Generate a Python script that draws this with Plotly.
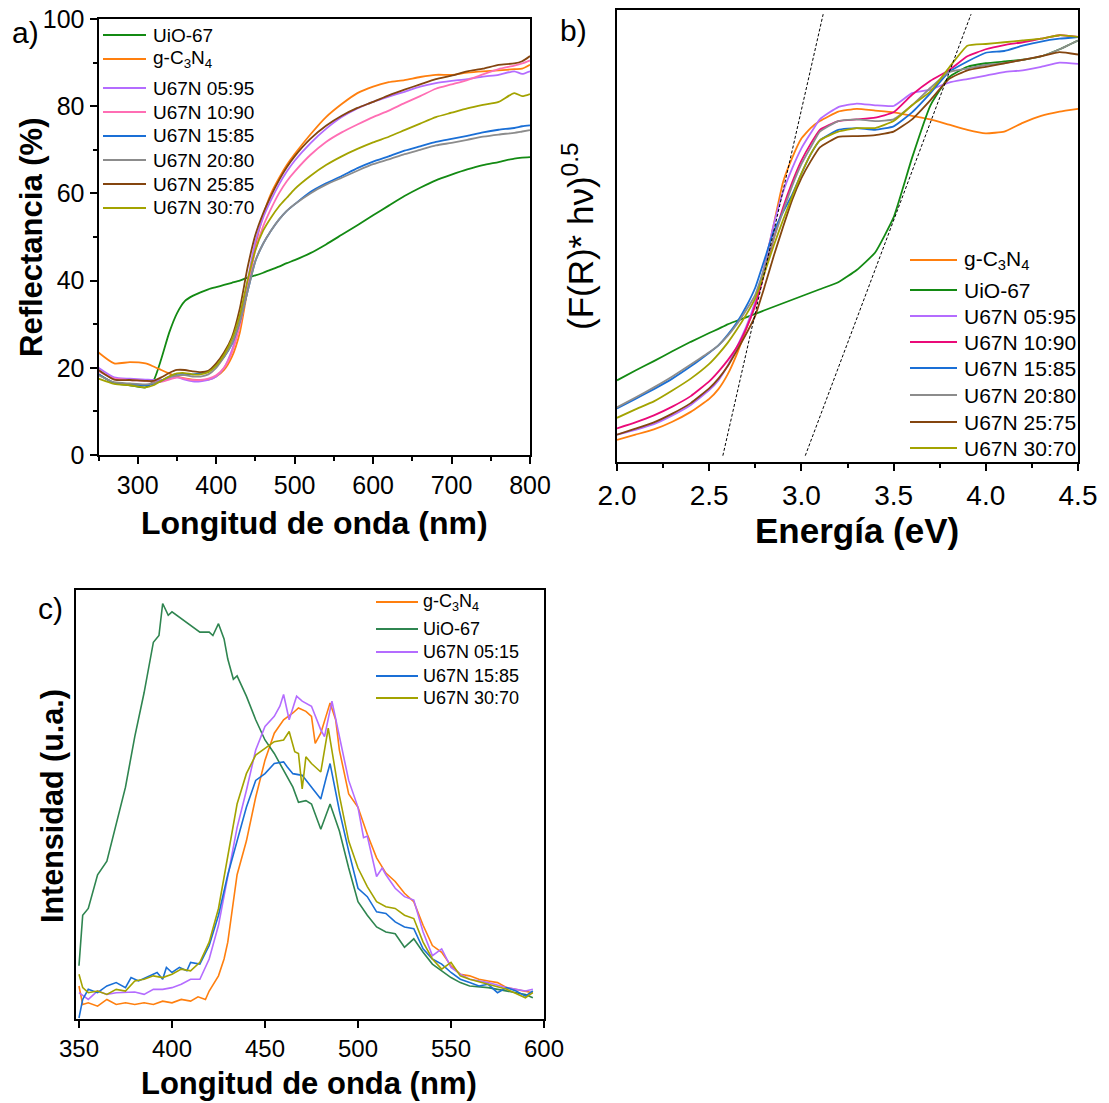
import plotly.graph_objects as go

W, H = 1109, 1103
FONT = "Liberation Sans, Arial, sans-serif"

# ---------------- Panel a: reflectance ----------------
A_WL = [250, 270, 290, 310, 320, 330, 340, 350, 360, 370, 380, 390, 400, 410, 420, 430, 440, 450, 460, 470,
        480, 490, 500, 520, 540, 560, 580, 600, 620, 640, 660, 680, 700, 720, 740, 760, 780, 790, 800]
A_UIO = [18.5, 16.5, 16, 15.5, 17, 22, 28, 32.5, 35.3, 36.5, 37.3, 38, 38.5, 39, 39.5, 40, 40.7, 41.2, 41.8, 42.5,
         43.2, 44, 44.7, 46.3, 48.3, 50.5, 52.7, 55, 57.2, 59.4, 61.3, 63, 64.3, 65.5, 66.5, 67.2, 68, 68.2, 68.3]
A_GCN = [23.5, 21, 21.3, 21, 20.3, 19.5, 18.7, 18, 17.6, 17.3, 17.2, 17.3, 18, 19.5, 22.5, 28, 38, 48, 55, 60,
         63.5, 66.5, 69, 73.5, 77.5, 80.5, 83, 84.5, 85.5, 86, 86.7, 87.2, 87.2, 87.7, 88, 88.2, 88.5, 88.6, 89.5]
A_0595 = [20, 17.8, 17.5, 17.3, 17.2, 17.2, 17.5, 17.8, 17.3, 16.9, 16.9, 17.2, 18, 20, 24, 31, 40, 49, 54.5, 58.5,
          62, 65, 67.5, 71.5, 74.8, 77.5, 79.5, 81, 82.2, 83.3, 84.5, 85.3, 85.8, 86.2, 86.8, 87.2, 88, 87.4, 88]
A_1090 = [19.2, 17.5, 17.2, 17, 16.8, 16.8, 17.3, 17.8, 17.5, 17.2, 17.2, 17.5, 18.3, 20, 23.5, 29.5, 38.5, 47, 52.5, 56.5,
          60, 62.8, 65, 68.8, 71.8, 74, 75.8, 77.5, 79, 80.7, 82.3, 84, 85, 86, 87.3, 88.5, 89.3, 89.8, 90.5]
A_1585 = [18.5, 16.5, 16.2, 16, 16.3, 17, 18, 18.6, 18.6, 18.5, 18.7, 19.2, 20.5, 22.5, 25.5, 30.5, 37.5, 44.5, 48.5, 51.5,
          54, 56, 57.5, 60.3, 62.3, 64, 65.8, 67.3, 68.5, 69.8, 70.8, 71.8, 72.5, 73.2, 74, 74.6, 75, 75.4, 75.6]
A_2080 = [18.3, 16.7, 16.4, 16.2, 16.5, 17, 17.8, 18.2, 18.3, 18, 18, 18.5, 20, 22.5, 25.5, 30.5, 37.5, 44.5, 48.5, 51.5,
          54, 56, 57.5, 60, 62, 63.6, 65.2, 66.7, 67.8, 69, 70, 71, 71.6, 72.3, 73, 73.5, 73.9, 74.2, 74.5]
A_2585 = [19.5, 17.3, 17.2, 17, 17, 17.8, 18.8, 19.5, 19.5, 19.2, 19, 19.3, 21, 23.5, 27, 33.5, 43, 50.5, 55.5, 59.5,
          63, 66, 68.5, 72.5, 75.5, 77.8, 79.6, 81, 82.5, 83.8, 85, 86.2, 87, 88, 88.6, 89.5, 89.8, 90.3, 91.5]
A_3070 = [17.5, 16.3, 16, 15.5, 16, 17, 18, 18.7, 18.8, 18.5, 18.5, 19, 20.5, 23, 26.5, 32, 40, 47, 51.5, 54.5,
          57, 59, 61, 64, 66.5, 68.5, 70.2, 71.7, 73, 74.5, 76, 77.5, 78.5, 79.5, 80.3, 81, 83, 82.3, 82.8]

# ---------------- Panel b: Tauc plot ----------------
B_E = [2.0, 2.1, 2.2, 2.3, 2.4, 2.5, 2.55, 2.6, 2.65, 2.7, 2.75, 2.8, 2.85, 2.9, 2.95, 3.0, 3.05, 3.1,
       3.2, 3.3, 3.4, 3.5, 3.6, 3.7, 3.8, 3.9, 4.0, 4.1, 4.2, 4.3, 4.4, 4.5]
B_GCN = [63, 78, 93, 115, 143, 180, 208, 250, 308, 378, 448, 558, 678, 798, 868, 923, 953, 973,
         1000, 1008, 1003, 998, 988, 978, 963, 948, 938, 943, 968, 988, 1000, 1008]
B_UIO = [233, 261, 288, 316, 343, 368, 380, 393, 403, 413, 423, 433, 443, 453, 463, 473, 483, 493,
         513, 548, 598, 698, 868, 1018, 1098, 1128, 1138, 1143, 1148, 1158, 1178, 1203]
B_0595 = [78, 92, 108, 133, 163, 205, 233, 275, 328, 385, 458, 560, 678, 770, 838, 895, 938, 978,
          1013, 1023, 1018, 1016, 1053, 1063, 1083, 1093, 1103, 1113, 1118, 1128, 1140, 1136]
B_1090 = [96, 113, 133, 158, 188, 230, 258, 290, 328, 380, 448, 540, 638, 725, 798, 860, 908, 948,
          973, 978, 983, 998, 1048, 1088, 1118, 1158, 1178, 1190, 1198, 1208, 1218, 1213]
B_1585 = [153, 180, 208, 238, 273, 312, 333, 363, 398, 443, 498, 578, 658, 713, 763, 823, 878, 918,
          948, 953, 948, 958, 998, 1053, 1113, 1143, 1168, 1173, 1188, 1200, 1208, 1213]
B_2080 = [156, 184, 213, 244, 278, 313, 333, 360, 393, 433, 478, 555, 638, 715, 788, 850, 898, 943,
          973, 978, 973, 978, 1018, 1068, 1113, 1123, 1133, 1138, 1148, 1158, 1178, 1203]
B_2575 = [78, 95, 113, 138, 168, 210, 238, 273, 318, 365, 418, 500, 588, 670, 748, 810, 858, 898,
          928, 930, 933, 943, 978, 1033, 1093, 1118, 1128, 1138, 1148, 1158, 1170, 1163]
B_3070 = [126, 150, 173, 204, 238, 280, 308, 340, 378, 420, 468, 540, 618, 690, 758, 823, 878, 918,
          943, 953, 953, 973, 1018, 1058, 1125, 1188, 1193, 1198, 1203, 1208, 1218, 1213]
# tangent (band-gap) lines
TAN1_E = [2.574, 3.118]
TAN1_Y = [18, 1278]
TAN2_E = [3.021, 3.920]
TAN2_Y = [18, 1278]

# ---------------- Panel c: photoluminescence ----------------
C_GCN_X = [350, 352, 355, 360, 365, 370, 375, 380, 385, 390, 395, 400, 405, 410, 414, 418, 420, 425, 428, 430,
           435, 440, 445, 450, 455, 460, 465, 468, 472, 475, 477, 480, 485, 488, 490, 495, 500, 505, 510, 515,
           520, 525, 530, 535, 540, 545, 550, 555, 560, 565, 570, 575, 580, 585, 590, 594]
C_GCN_Y = [98, 43, 48, 38, 58, 43, 48, 43, 48, 43, 53, 48, 58, 53, 66, 58, 83, 128, 178, 228,
           428, 528, 658, 768, 848, 888, 908, 923, 913, 898, 818, 848, 938, 888, 798, 668, 628, 548, 478, 433,
           408, 373, 348, 278, 218, 198, 158, 133, 128, 118, 113, 108, 93, 88, 83, 78]
C_UIO_X = [350, 352, 355, 360, 365, 370, 375, 380, 385, 390, 393, 395, 398, 400, 405, 410, 415, 420, 422, 425,
           428, 430, 433, 435, 440, 445, 450, 455, 460, 465, 468, 472, 475, 480, 485, 490, 495, 500, 505, 510,
           515, 520, 525, 530, 535, 540, 545, 550, 555, 560, 570, 580, 590, 594]
C_UIO_Y = [158, 308, 328, 428, 468, 578, 688, 838, 968, 1118, 1138, 1233, 1198, 1208, 1188, 1168, 1148, 1148, 1138, 1173,
           1128, 1068, 1008, 1018, 958, 888, 828, 788, 738, 688, 643, 648, 638, 563, 638, 558, 448, 348, 308, 273,
           258, 253, 213, 238, 198, 163, 143, 123, 108, 98, 93, 83, 73, 63]
C_0515_X = [350, 355, 360, 365, 370, 380, 385, 390, 395, 400, 405, 410, 415, 420, 425, 430, 435, 440, 445, 450,
            455, 458, 460, 463, 467, 470, 475, 480, 482, 486, 490, 495, 500, 503, 505, 510, 513, 515, 520, 525,
            530, 535, 540, 545, 550, 555, 560, 570, 580, 590, 594]
C_0515_Y = [78, 58, 83, 73, 78, 80, 73, 88, 88, 93, 103, 118, 118, 178, 278, 428, 568, 678, 798, 868,
            898, 928, 963, 888, 958, 943, 928, 858, 838, 943, 838, 708, 628, 538, 543, 423, 448, 428, 388, 363,
            353, 258, 188, 208, 153, 133, 118, 108, 93, 83, 88]
C_1585_X = [350, 352, 355, 360, 365, 370, 375, 378, 382, 388, 392, 395, 397, 400, 404, 408, 410, 415, 420, 425,
            430, 435, 440, 445, 450, 455, 460, 462, 465, 470, 475, 480, 483, 485, 490, 495, 500, 505, 510, 515,
            520, 525, 530, 535, 540, 545, 550, 555, 560, 565, 570, 575, 580, 585, 590, 594]
C_1585_Y = [3, 58, 88, 78, 98, 108, 93, 123, 113, 128, 138, 118, 153, 138, 153, 143, 168, 163, 218, 308,
            428, 528, 628, 708, 728, 758, 763, 748, 728, 723, 688, 653, 718, 758, 618, 498, 388, 363, 318, 313,
            288, 273, 268, 208, 178, 163, 138, 118, 108, 98, 103, 78, 93, 83, 68, 83]
C_3070_X = [350, 352, 355, 360, 365, 370, 375, 380, 385, 390, 395, 400, 405, 410, 415, 420, 425, 430, 435, 440,
            445, 450, 455, 460, 463, 466, 468, 470, 472, 475, 480, 484, 487, 490, 495, 500, 505, 510, 515, 520,
            525, 530, 535, 540, 545, 550, 555, 560, 570, 580, 590, 594]
C_3070_Y = [133, 93, 78, 83, 73, 88, 83, 113, 118, 128, 123, 133, 148, 143, 168, 228, 328, 488, 638, 728,
            783, 803, 823, 828, 853, 793, 788, 683, 778, 758, 733, 863, 768, 663, 528, 448, 393, 348, 333, 328,
            308, 298, 228, 178, 148, 168, 128, 118, 103, 88, 63, 78]

GCN_LABEL = "g-C<sub>3</sub>N<sub>4</sub>"

COL = dict(green="#138a13", orange="#ff7f0e", violet="#b46cff", pink="#ff6eb4", magenta="#ea0a78",
           blue="#1a6fd6", grey="#8c8c8c", brown="#84450f", olive="#a3a300", cgreen="#2f8550")

fig = go.Figure()

def px(x):
    return x / W

def py(y):
    return 1 - y / H

def legend_entry(name, color, x0, x1, xt, y, size):
    fig.add_shape(type="line", xref="paper", yref="paper", x0=px(x0), x1=px(x1), y0=py(y), y1=py(y),
                  line=dict(color=color, width=2))
    fig.add_annotation(text=name, x=px(xt), y=py(y), xref="paper", yref="paper", showarrow=False,
                       xanchor="left", yanchor="middle", font=dict(family=FONT, size=size, color="black"))

A_SERIES = [("UiO-67", A_UIO, COL["green"]), (GCN_LABEL, A_GCN, COL["orange"]),
            ("U67N 05:95", A_0595, COL["violet"]), ("U67N 10:90", A_1090, COL["pink"]),
            ("U67N 15:85", A_1585, COL["blue"]), ("U67N 20:80", A_2080, COL["grey"]),
            ("U67N 25:85", A_2585, COL["brown"]), ("U67N 30:70", A_3070, COL["olive"])]
A_ROWS = [35, 59, 88, 112, 136, 160, 184, 208]
for (name, ys, c), ry in zip(A_SERIES, A_ROWS):
    fig.add_trace(go.Scatter(x=A_WL, y=ys, name=name, mode="lines", xaxis="x", yaxis="y", showlegend=False,
                             line=dict(color=c, width=1.8, shape="spline", smoothing=0.6)))
    legend_entry(name, c, 103, 146, 151, ry, 19)

B_SERIES = [(GCN_LABEL, B_GCN, COL["orange"]), ("UiO-67", B_UIO, COL["green"]),
            ("U67N 05:95", B_0595, COL["violet"]), ("U67N 10:90", B_1090, COL["magenta"]),
            ("U67N 15:85", B_1585, COL["blue"]), ("U67N 20:80", B_2080, COL["grey"]),
            ("U67N 25:75", B_2575, COL["brown"]), ("U67N 30:70", B_3070, COL["olive"])]
B_ROWS = [260, 290, 316, 342, 368, 395, 422, 448]
for (name, ys, c), ry in zip(B_SERIES, B_ROWS):
    fig.add_trace(go.Scatter(x=B_E, y=ys, name=name, mode="lines", xaxis="x2", yaxis="y2", showlegend=False,
                             line=dict(color=c, width=1.8, shape="spline", smoothing=0.4)))
    legend_entry(name, c, 910, 957, 962, ry, 21)
for ex, ey in [(TAN1_E, TAN1_Y), (TAN2_E, TAN2_Y)]:
    fig.add_trace(go.Scatter(x=ex, y=ey, mode="lines", xaxis="x2", yaxis="y2", showlegend=False,
                             line=dict(color="black", width=1, dash="3px,2px")))

C_SERIES = [(GCN_LABEL, C_GCN_X, C_GCN_Y, COL["orange"]), ("UiO-67", C_UIO_X, C_UIO_Y, COL["cgreen"]),
            ("U67N 05:15", C_0515_X, C_0515_Y, COL["violet"]), ("U67N 15:85", C_1585_X, C_1585_Y, COL["blue"]),
            ("U67N 30:70", C_3070_X, C_3070_Y, COL["olive"])]
C_ROWS = [602, 629, 652, 676, 698]
for (name, xs, ys, c), ry in zip(C_SERIES, C_ROWS):
    fig.add_trace(go.Scatter(x=xs, y=ys, name=name, mode="lines", xaxis="x3", yaxis="y3", showlegend=False,
                             line=dict(color=c, width=1.6)))
    legend_entry(name, c, 376, 418, 421, ry, 18)

axis_common = dict(showline=True, linecolor="black", linewidth=2, mirror=True, showgrid=False,
                   zeroline=False, ticks="outside", tickcolor="black", tickwidth=2, ticklen=7,
                   automargin=False, tickfont=dict(family=FONT, size=25, color="black"))
minor_common = dict(ticklen=4, tickwidth=2, ticks="outside", tickcolor="black")

fig.update_layout(
    width=W, height=H, margin=dict(l=0, r=0, t=0, b=0, autoexpand=False),
    paper_bgcolor="white", plot_bgcolor="white", showlegend=False,
    font=dict(family=FONT, color="black"),
    xaxis=dict(domain=[px(98.5), px(530)], range=[250, 800], anchor="y", dtick=100, tick0=300,
               minor=dict(dtick=50, **minor_common), **axis_common),
    yaxis=dict(domain=[py(455), py(19)], range=[0, 100], anchor="x", dtick=20,
               minor=dict(dtick=10, **minor_common), **axis_common),
    xaxis2=dict(domain=[px(617), px(1078)], range=[2.0, 4.5], anchor="y2", dtick=0.5, tickformat=".1f",
                minor=dict(dtick=0.25, **minor_common),
                **{**axis_common, "tickfont": dict(family=FONT, size=28, color="black")}),
    yaxis2=dict(domain=[py(462), py(10)], range=[0, 1290], anchor="x2",
                **{**axis_common, "ticks": "", "showticklabels": False}),
    xaxis3=dict(domain=[px(76), px(544)], range=[348.4, 600], anchor="y3", tickvals=[350, 400, 450, 500, 550, 600],
                **{**axis_common, "tickfont": dict(family=FONT, size=24, color="black")}),
    yaxis3=dict(domain=[py(1019), py(590)], range=[0, 1273], anchor="x3",
                **{**axis_common, "ticks": "", "showticklabels": False}),
)

def text(t, x, y, size, bold=False, angle=0):
    fig.add_annotation(text=f"<b>{t}</b>" if bold else t, x=px(x), y=py(y), xref="paper", yref="paper",
                       showarrow=False, xanchor="center", yanchor="middle", textangle=angle,
                       font=dict(family=FONT, size=size, color="black"))

text("Longitud de onda (nm)", 315, 523, 32, bold=True)
text("Energía (eV)", 857, 530, 35, bold=True)
text("Longitud de onda (nm)", 309, 1083, 31, bold=True)
text("Reflectancia (%)", 32, 238, 31, bold=True, angle=-90)
text("(F(R)* h\u03bd)<sup>0.5</sup>", 578, 236, 35, angle=-90)
text("Intensidad (u.a.)", 52, 806, 30.5, bold=True, angle=-90)
text("a)", 25, 32, 30)
text("b)", 573, 31, 30)
text("c)", 50, 608, 30)

fig.write_html("out.html")
